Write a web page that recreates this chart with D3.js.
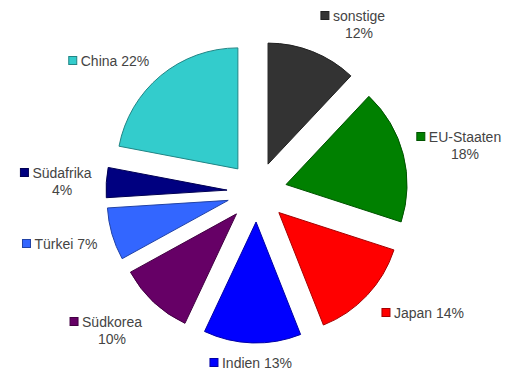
<!DOCTYPE html>
<html><head><meta charset="utf-8">
<script src="https://cdn.jsdelivr.net/npm/d3@7"></script>
<style>html,body{margin:0;padding:0;background:#fff;}svg{display:block;}</style>
</head><body>
<svg id="chart" width="517" height="374"></svg>
<script>
const categories = ["sonstige","EU-Staaten","Japan","Indien","Südkorea","Türkei","Südafrika","China"];
const values = [12,18,14,13,10,7,4,22];
const colors = ["#333333","#008000","#ff0000","#0000ff","#660066","#3366ff","#000080","#33cccc"];
const labelLines = [["sonstige","12%"],["EU-Staaten","18%"],["Japan 14%"],["Indien 13%"],["Südkorea","10%"],["Türkei 7%"],["Südafrika","4%"],["China 22%"]];

// layout (not data)
const cx = 257, cy = 192, R = 121, explode = 30;
const labelPos = [[359,21],[465,142],[429,318],[257,368],[112,327],[66,249],[62,178],[115,66]];

const svg = d3.select("#chart");
const g = svg.append("g").attr("transform",`translate(${cx},${cy})`);
const pie = d3.pie().sort(null).value(d=>d)(values);
const arc = d3.arc().innerRadius(0).outerRadius(R);

g.selectAll("path").data(pie).join("path")
  .attr("d", arc)
  .attr("transform", d => {
    const a = (d.startAngle + d.endAngle)/2;
    return `translate(${explode*Math.sin(a)},${-explode*Math.cos(a)})`;
  })
  .attr("fill", (d,i)=>colors[i])
  .attr("stroke", (d,i)=>d3.color(colors[i]).darker(1.2))
  .attr("stroke-width", 1)
  .attr("stroke-linejoin","miter");

const lg = svg.append("g").attr("font-family","'Liberation Sans', Arial, sans-serif")
  .attr("font-size","14px").attr("fill","#444");
categories.forEach((c,i)=>{
  const [x,y] = labelPos[i];
  const lines = labelLines[i];
  let first;
  lines.forEach((t,j)=>{
    const te = lg.append("text").attr("x",x).attr("y",y+j*17).attr("text-anchor","middle").text(t);
    if(j===0) first = te;
  });
  const w = first.node().getComputedTextLength();
  lg.append("rect").attr("x", x - w/2 - 12).attr("y", y-9.5).attr("width",8).attr("height",8)
    .attr("fill", colors[i]).attr("stroke", d3.color(colors[i]).darker(1.2)).attr("stroke-width",1);
});
</script>
</body></html>
